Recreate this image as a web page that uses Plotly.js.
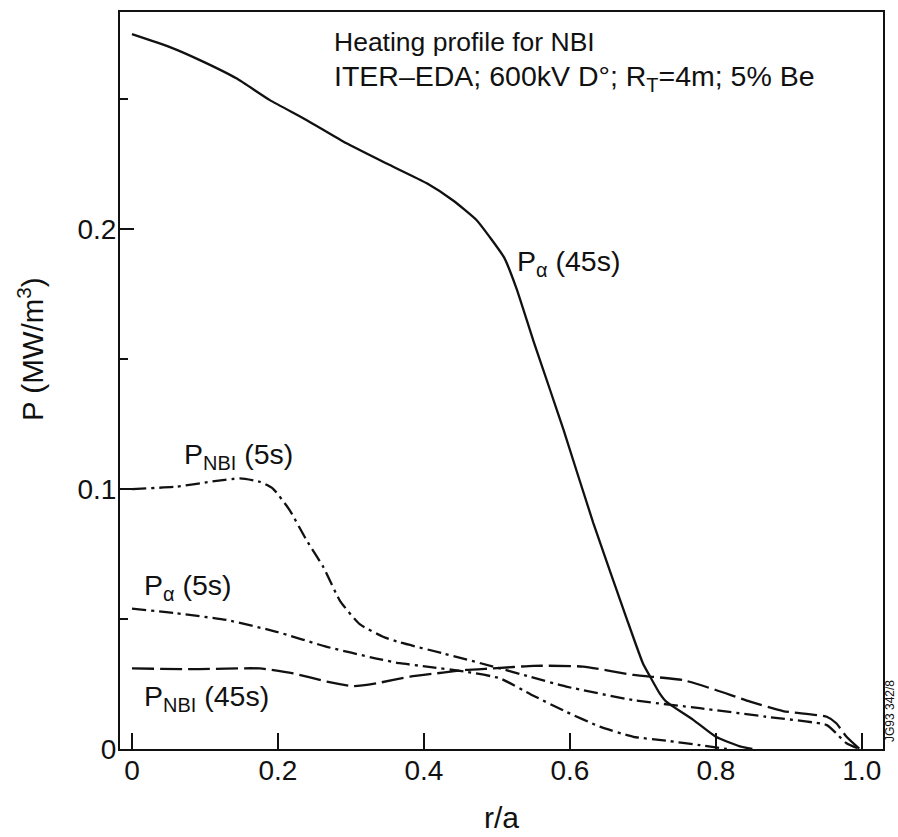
<!DOCTYPE html>
<html>
<head>
<meta charset="utf-8">
<script src="https://cdn.plot.ly/plotly-3.0.1.min.js"></script>
<style>html,body{margin:0;padding:0;background:#fff;}#chart{width:898px;height:837px;}</style>
</head>
<body>
<div id="chart"></div>
<script>
// P_alpha (45s) — solid
const xAlpha45 = [0, 0.052, 0.093, 0.143, 0.189, 0.239, 0.294, 0.349, 0.404, 0.44, 0.472, 0.49, 0.51, 0.527, 0.55, 0.573, 0.591, 0.632, 0.678, 0.70, 0.71, 0.723, 0.732, 0.769, 0.80, 0.833, 0.85];
const yAlpha45 = [0.275, 0.270, 0.265, 0.258, 0.2496, 0.242, 0.233, 0.2252, 0.2176, 0.211, 0.2035, 0.197, 0.189, 0.177, 0.157, 0.138, 0.123, 0.087, 0.050, 0.033, 0.0278, 0.0214, 0.0182, 0.0112, 0.0047, 0.001, 0];
// P_NBI (5s) — dash-dot
const xNbi5 = [0, 0.061, 0.107, 0.148, 0.175, 0.193, 0.216, 0.239, 0.262, 0.285, 0.312, 0.344, 0.367, 0.426, 0.495, 0.545, 0.595, 0.687, 0.778, 0.869, 0.952, 0.965, 0.979, 0.997];
const yNbi5 = [0.100, 0.1009, 0.1028, 0.1041, 0.1028, 0.1002, 0.0919, 0.0804, 0.0701, 0.057, 0.048, 0.0432, 0.041, 0.0368, 0.0317, 0.0278, 0.024, 0.0188, 0.0157, 0.0124, 0.0092, 0.006, 0.0022, 0];
// P_alpha (5s) — dash-dot
const xAlpha5 = [0, 0.061, 0.13, 0.198, 0.267, 0.335, 0.367, 0.404, 0.458, 0.504, 0.55, 0.595, 0.641, 0.687, 0.732, 0.778, 0.815];
const yAlpha5 = [0.054, 0.0522, 0.0496, 0.0451, 0.0393, 0.0348, 0.033, 0.0317, 0.0297, 0.0272, 0.0205, 0.0143, 0.0086, 0.0047, 0.0032, 0.0015, 0];
// P_NBI (45s) — long dash
const xNbi45 = [0, 0.084, 0.175, 0.221, 0.267, 0.303, 0.335, 0.381, 0.426, 0.458, 0.495, 0.55, 0.618, 0.687, 0.755, 0.80, 0.847, 0.892, 0.952, 0.965, 0.979, 0.997];
const yNbi45 = [0.031, 0.0307, 0.031, 0.0291, 0.0259, 0.0242, 0.0253, 0.0278, 0.0294, 0.0304, 0.031, 0.032, 0.0317, 0.0285, 0.0265, 0.0227, 0.0182, 0.0146, 0.0124, 0.0099, 0.0047, 0];

const xTickVals = [0, 0.2, 0.4, 0.6, 0.8, 1.0];
const xTickText = ['0', '0.2', '0.4', '0.6', '0.8', '1.0'];
const yTickVals = [0, 0.1, 0.2];
const yTickText = ['0', '0.1', '0.2'];

const FONT = 'Liberation Sans, Arial, Helvetica, sans-serif';
const ink = '#111';

function line(x, y, dash) {
  return {x: x, y: y, type: 'scatter', mode: 'lines', showlegend: false, hoverinfo: 'skip',
    line: {color: ink, width: 2.3, dash: dash, shape: 'spline', smoothing: 0.5}};
}

const traces = [
  line(xAlpha45, yAlpha45, 'solid'),
  line(xNbi5, yNbi5, '14px,5px,3px,5px'),
  line(xAlpha5, yAlpha5, '14px,5px,3px,5px'),
  line(xNbi45, yNbi45, '22px,6px')
];

function ann(text, x, y, size) {
  return {text: text, x: x, y: y, xref: 'x', yref: 'y', xanchor: 'left', yanchor: 'middle',
    showarrow: false, font: {family: FONT, size: size, color: ink}};
}

// pixel frame of the plot area, used to place free texts
const W = 898, H = 837, mL = 120, mR = 15, mT = 12, mB = 88;
const plotL = mL, plotR = W - mR, plotT = mT, plotB = H - mB;
function paperAnn(text, px, py, size, angle) {
  return {text: text, xref: 'paper', yref: 'paper',
    x: (px - plotL) / (plotR - plotL), y: (plotB - py) / (plotB - plotT),
    xanchor: 'center', yanchor: 'middle', showarrow: false, textangle: angle || 0,
    font: {family: FONT, size: size, color: ink}};
}

const layout = {
  width: W, height: H,
  margin: {l: mL, r: mR, t: mT, b: mB, pad: 0},
  paper_bgcolor: '#fff', plot_bgcolor: '#fff',
  font: {family: FONT, color: ink},
  xaxis: {
    range: [-0.0164, 1.029], tickvals: xTickVals, ticktext: xTickText,
    ticks: 'inside', ticklen: 16, tickwidth: 2, tickcolor: ink, ticklabelstandoff: -5,
    showline: true, linewidth: 2, linecolor: ink, mirror: true,
    showgrid: false, zeroline: false, tickfont: {size: 28, family: FONT, color: ink}
  },
  yaxis: {
    range: [0, 0.2835], tickvals: yTickVals, ticktext: yTickText,
    ticks: 'inside', ticklen: 14, tickwidth: 2, tickcolor: ink, ticklabelstandoff: -4,
    minor: {tickvals: [0.05, 0.15, 0.25], ticks: 'inside', ticklen: 8, tickwidth: 2, tickcolor: ink},
    showline: true, linewidth: 2, linecolor: ink, mirror: true,
    showgrid: false, zeroline: false, tickfont: {size: 28, family: FONT, color: ink}
  },
  annotations: [
    ann('Heating profile for NBI', 0.274, 0.2718, 26.5),
    ann('ITER\u2013EDA; 600kV D\u00b0; R<sub>T</sub>=4m; 5% Be', 0.274, 0.2583, 28.5),
    ann('P<sub>\u03b1</sub> (45s)', 0.525, 0.187, 28.5),
    ann('P<sub>NBI</sub> (5s)', 0.069, 0.1127, 28.5),
    ann('P<sub>\u03b1</sub> (5s)', 0.014, 0.0623, 28.5),
    ann('P<sub>NBI</sub> (45s)', 0.014, 0.0196, 28.5),
    paperAnn('r/a', 501, 817, 30, 0),
    paperAnn('JG93 342/8', 890, 711, 12, -90),
    paperAnn('P (MW/m<sup>3</sup>)', 30, 349, 29.5, -90)
  ]
};

Plotly.newPlot('chart', traces, layout, {staticPlot: true, displayModeBar: false});
</script>
</body>
</html>
